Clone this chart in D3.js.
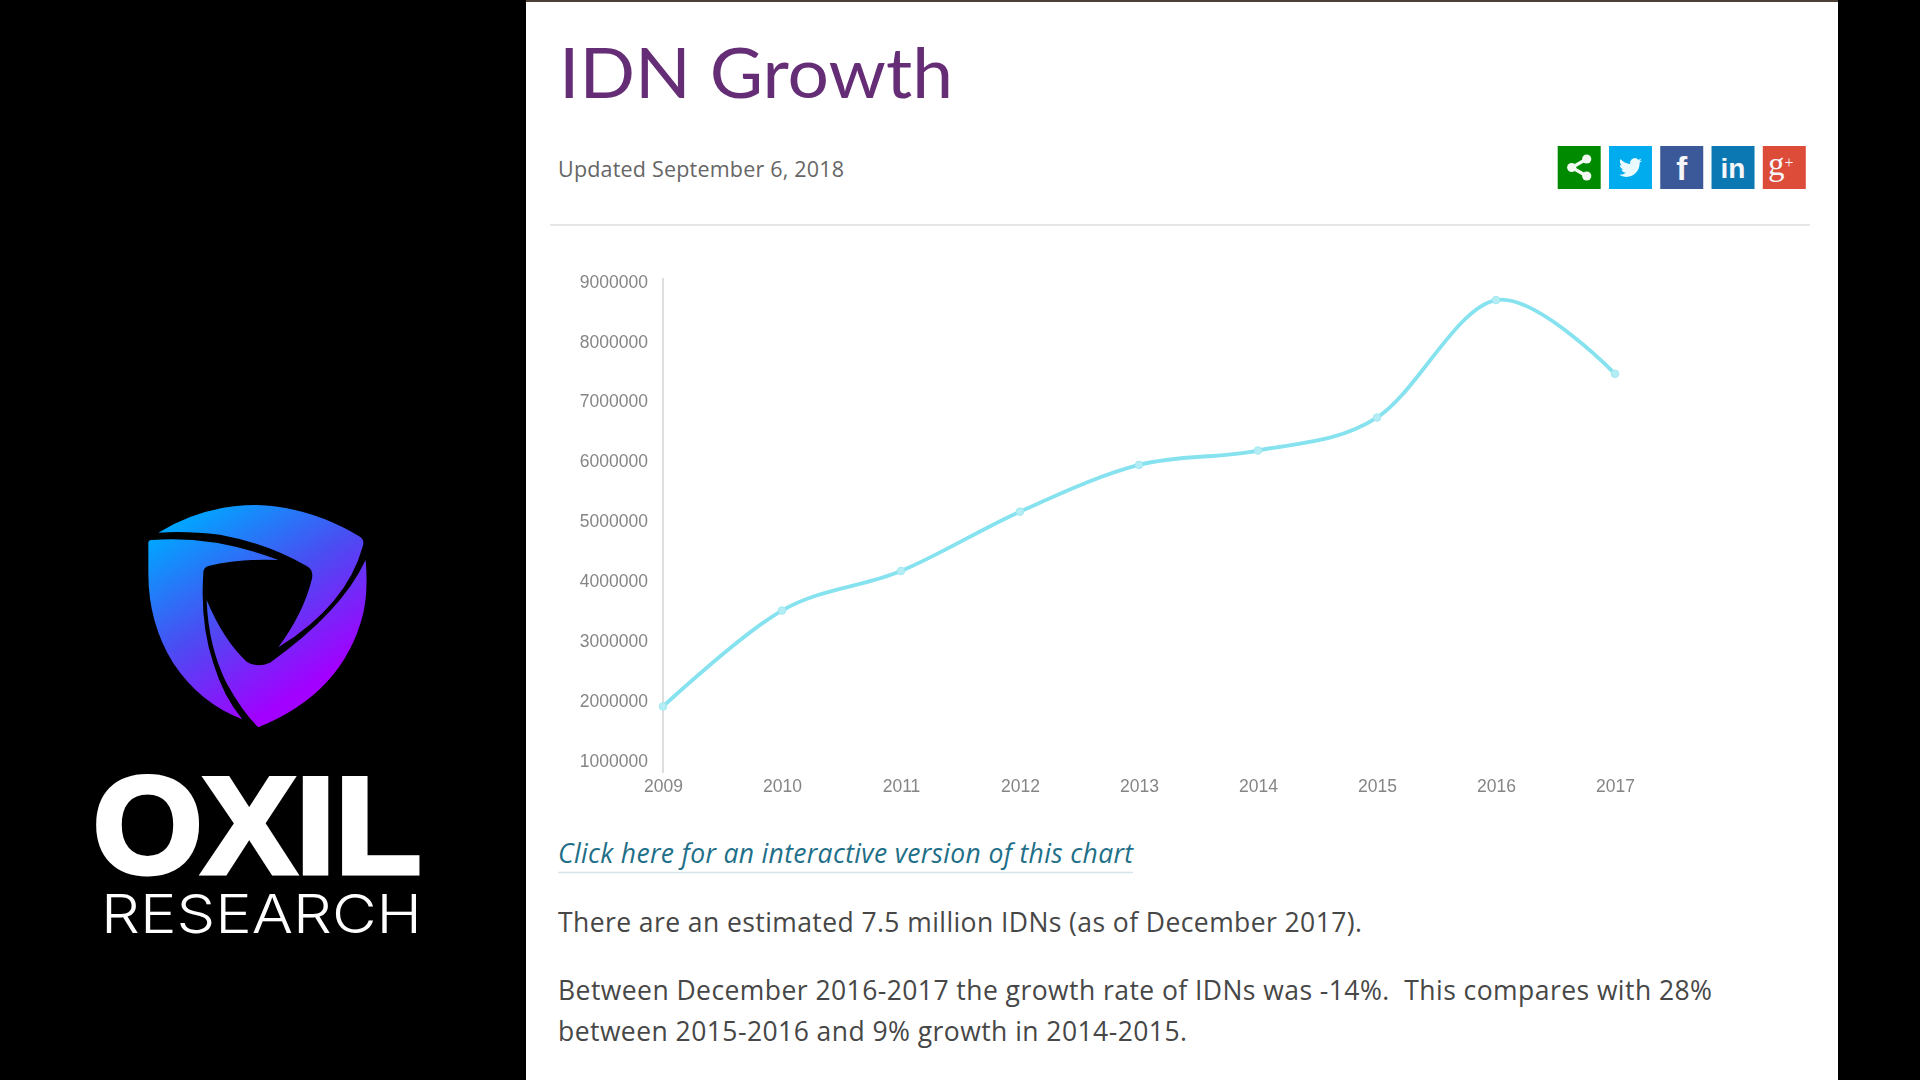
<!DOCTYPE html>
<html>
<head>
<meta charset="utf-8">
<script src="https://cdn.jsdelivr.net/npm/d3@7"></script>
<style>
  html, body { margin: 0; padding: 0; background: #000; overflow: hidden; }
  svg { display: block; }
  text { white-space: pre; }
  .axis text { font-family: "Liberation Sans", sans-serif; font-size: 17.5px; fill: #858585; filter: blur(0.4px); }
  .copy { font-family: "Open Sans", sans-serif; }
</style>
</head>
<body>
<div id="chart"></div>
<script>
const years = [2009, 2010, 2011, 2012, 2013, 2014, 2015, 2016, 2017];
const idnCounts = [1910000, 3510000, 4170000, 5160000, 5940000, 6180000, 6730000, 8690000, 7460000];
const yTicks = [1000000, 2000000, 3000000, 4000000, 5000000, 6000000, 7000000, 8000000, 9000000];

const socialNames = ["share", "twitter", "facebook", "linkedin", "google"];
const socialColors = ["#008a00", "#00acee", "#3b5998", "#0b78b4", "#dd4b39"];

const svg = d3
  .select("#chart")
  .append("svg")
  .attr("width", 1920)
  .attr("height", 1080);

// page panel
svg.append("rect").attr("x", 526).attr("y", 0).attr("width", 1312).attr("height", 1080).attr("fill", "#fff");
svg.append("rect").attr("x", 526).attr("y", 0).attr("width", 1312).attr("height", 2).attr("fill", "#4d4036");

svg
  .append("text")
  .attr("x", 559)
  .attr("y", 98)
  .attr("textLength", 394)
  .attr("lengthAdjust", "spacingAndGlyphs")
  .attr("font-family", "Lato, sans-serif")
  .attr("font-size", 69)
  .attr("fill", "#652d75")
  .text("IDN Growth");

svg
  .append("text")
  .attr("class", "copy")
  .attr("x", 558)
  .attr("y", 177)
  .attr("textLength", 286)
  .attr("font-size", 21.5)
  .attr("fill", "#666")
  .text("Updated September 6, 2018");

svg
  .append("line")
  .attr("x1", 550)
  .attr("x2", 1810)
  .attr("y1", 225)
  .attr("y2", 225)
  .attr("stroke", "#e6e6e6")
  .attr("stroke-width", 2);

// social buttons
const buttonX = d3.scaleBand().domain(socialNames).range([1557.7, 1805.7]).paddingInner(0.163);
const buttons = svg
  .selectAll(".button")
  .data(socialNames)
  .join("g")
  .attr("class", "button")
  .attr("transform", d => `translate(${buttonX(d)},146)`);

buttons
  .append("rect")
  .attr("width", 43)
  .attr("height", 43)
  .attr("fill", (d, i) => socialColors[i]);

const shareIcon = buttons.filter(d => d === "share");
shareIcon
  .append("path")
  .attr("d", "M29 13 L14 21.5 L29 30")
  .attr("fill", "none")
  .attr("stroke", "#f2faf2")
  .attr("stroke-width", 3.2);
shareIcon
  .selectAll("circle")
  .data([[29, 13], [14, 21.5], [29, 30]])
  .join("circle")
  .attr("cx", d => d[0])
  .attr("cy", d => d[1])
  .attr("r", 4.6)
  .attr("fill", "#f2faf2");

buttons
  .filter(d => d === "twitter")
  .append("path")
  .attr("transform", "translate(10,10) scale(0.96)")
  .attr("fill", "#eafaff")
  .attr("d", "M23.953 4.57a10 10 0 01-2.825.775 4.958 4.958 0 002.163-2.723c-.951.555-2.005.959-3.127 1.184a4.92 4.92 0 00-8.384 4.482C7.69 8.095 4.067 6.13 1.64 3.162a4.822 4.822 0 00-.666 2.475c0 1.71.87 3.213 2.188 4.096a4.904 4.904 0 01-2.228-.616v.06a4.923 4.923 0 003.946 4.827 4.996 4.996 0 01-2.212.085 4.936 4.936 0 004.604 3.417 9.867 9.867 0 01-6.102 2.105c-.39 0-.779-.023-1.17-.067a13.995 13.995 0 007.557 2.209c9.053 0 13.998-7.496 13.998-13.985 0-.21 0-.42-.015-.63A9.935 9.935 0 0024 4.59z");

const buttonText = (name, label, family, size, weight, x, y) =>
  buttons
    .filter(d => d === name)
    .append("text")
    .attr("x", x)
    .attr("y", y)
    .attr("text-anchor", "middle")
    .attr("font-family", family)
    .attr("font-size", size)
    .attr("font-weight", weight)
    .attr("fill", "#f4f6fa")
    .text(label);

buttonText("facebook", "f", "Liberation Sans, sans-serif", 33, 700, 21.5, 34);
buttonText("linkedin", "in", "Liberation Sans, sans-serif", 28, 700, 21.5, 32);
buttonText("google", "g", "Liberation Serif, serif", 33, 400, 18, 29)
  .append("tspan")
  .attr("font-size", 16)
  .attr("dy", -7)
  .text("+");

// chart
const x = d3.scalePoint().domain(years).range([663, 1615]);
const y = d3.scaleLinear().domain([1000000, 9000000]).range([761, 281.5]);

const yAxis = d3.axisLeft(y).tickValues(yTicks).tickSize(0).tickPadding(15).tickFormat(d3.format("d"));
const xAxis = d3.axisBottom(x).tickSize(0).tickPadding(0).tickFormat(d3.format("d"));

const yGroup = svg
  .append("g")
  .attr("class", "axis y-axis")
  .attr("transform", `translate(${x(2009)},0)`)
  .call(yAxis);
yGroup.select(".domain").remove();

const xGroup = svg
  .append("g")
  .attr("class", "axis x-axis")
  .attr("transform", "translate(0,780)")
  .call(xAxis);
xGroup.select(".domain").remove();

svg
  .append("line")
  .attr("x1", x(2009))
  .attr("x2", x(2009))
  .attr("y1", 278)
  .attr("y2", 773)
  .attr("stroke", "#dedede")
  .attr("stroke-width", 2);

const line = d3
  .line()
  .x((d, i) => x(years[i]))
  .y(d => y(d))
  .curve(d3.curveCardinal.tension(0));

svg
  .append("path")
  .datum(idnCounts)
  .attr("d", line)
  .attr("fill", "none")
  .attr("stroke", "#85e2ee")
  .attr("stroke-width", 3.8);

svg
  .selectAll(".dot")
  .data(idnCounts)
  .join("circle")
  .attr("class", "dot")
  .attr("cx", (d, i) => x(years[i]))
  .attr("cy", d => y(d))
  .attr("r", 3.8)
  .attr("fill", "#b5edf5")
  .attr("stroke", "#a2e8f2")
  .attr("stroke-width", 1);

// copy under the chart
svg
  .append("text")
  .attr("class", "copy")
  .attr("x", 558)
  .attr("y", 863)
  .attr("textLength", 575)
  .attr("font-size", 26.5)
  .attr("font-style", "italic")
  .attr("fill", "#1f6f88")
  .text("Click here for an interactive version of this chart");

svg
  .append("line")
  .attr("x1", 558)
  .attr("x2", 1133)
  .attr("y1", 872.5)
  .attr("y2", 872.5)
  .attr("stroke", "#d6e4ec")
  .attr("stroke-width", 1.5);

const paragraphLines = [
  "There are an estimated 7.5 million IDNs (as of December 2017).",
  "Between December 2016-2017 the growth rate of IDNs was -14%.  This compares with 28%",
  "between 2015-2016 and 9% growth in 2014-2015."
];
const paragraphBaselines = [932, 1000, 1041];
const paragraphWidths = [804, 1154, 629];

svg
  .selectAll(".para")
  .data(paragraphLines)
  .join("text")
  .attr("class", "copy para")
  .attr("x", 558)
  .attr("y", (d, i) => paragraphBaselines[i])
  .attr("textLength", (d, i) => paragraphWidths[i])
  .attr("font-size", 26.5)
  .attr("fill", "#474747")
  .text(d => d);

// logo on the black strip
const defs = svg.append("defs");
const gradient = defs
  .append("linearGradient")
  .attr("id", "logoFill")
  .attr("gradientUnits", "userSpaceOnUse")
  .attr("x1", 300)
  .attr("y1", 90)
  .attr("x2", 640)
  .attr("y2", 620);
gradient.append("stop").attr("offset", 0).attr("stop-color", "#00a6ff");
gradient.append("stop").attr("offset", 0.5).attr("stop-color", "#4a4df2");
gradient.append("stop").attr("offset", 1).attr("stop-color", "#a200ff");

const logo = svg.append("g").attr("transform", "translate(80,490) scale(0.3333)");
const logoPieces = [
  "M235 128 Q370 45 530 45 Q690 50 840 140 Q855 150 848 170 Q800 345 595 472 Q670 370 695 270 Q703 240 680 228 Q560 160 420 134 Q320 122 235 128 Z",
  "M215 150 Q400 135 595 210 Q480 205 385 228 Q370 232 370 250 Q360 400 400 520 Q430 620 487 688 Q360 640 280 520 Q205 400 205 250 L205 160 Q205 150 215 150 Z",
  "M380 330 Q430 450 500 515 Q530 535 570 518 Q785 365 857 210 Q865 300 850 370 Q790 610 535 712 Q490 670 440 580 Q385 470 380 330 Z"
];
logo
  .selectAll("path")
  .data(logoPieces)
  .join("path")
  .attr("d", d => d)
  .attr("fill", "url(#logoFill)");

svg
  .append("text")
  .attr("x", 93)
  .attr("y", 873)
  .attr("textLength", 328)
  .attr("lengthAdjust", "spacingAndGlyphs")
  .attr("font-family", "Liberation Sans, sans-serif")
  .attr("font-weight", 700)
  .attr("font-size", 137)
  .attr("fill", "#fff")
  .attr("stroke", "#fff")
  .attr("stroke-width", 5)
  .text("OXIL");

svg
  .append("text")
  .attr("x", 101)
  .attr("y", 933)
  .attr("textLength", 321)
  .attr("lengthAdjust", "spacingAndGlyphs")
  .attr("font-family", "Inter, sans-serif")
  .attr("font-weight", 300)
  .attr("font-size", 54)
  .attr("fill", "#fff")
  .text("RESEARCH");
</script>
</body>
</html>
